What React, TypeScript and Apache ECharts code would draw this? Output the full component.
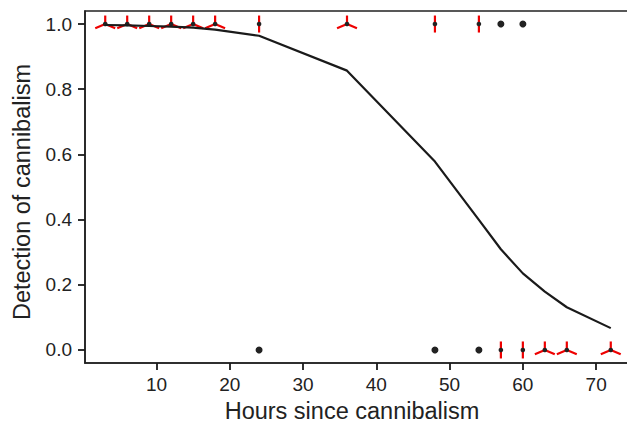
import React, { useEffect, useRef } from "react";
import * as echarts from "echarts";

const curveX = [3, 6, 9, 12, 15, 18, 24, 36, 48, 54, 57, 60, 63, 66, 72];
const curveY = [0.997, 0.996, 0.994, 0.992, 0.989, 0.983, 0.964, 0.857, 0.578, 0.399, 0.309, 0.235, 0.179, 0.131, 0.067];

const topX = [3, 6, 9, 12, 15, 18, 24, 36, 48, 54, 57, 60];
const topCount = [3, 3, 3, 3, 3, 3, 2, 3, 2, 2, 1, 1];
const bottomX = [24, 48, 54, 57, 60, 63, 66, 72];
const bottomCount = [1, 1, 1, 2, 2, 3, 3, 3];

const xTicks = [10, 20, 30, 40, 50, 60, 70];
const yTicks = [0, 0.2, 0.4, 0.6, 0.8, 1.0];

const FONT = "'Liberation Sans', Arial, Helvetica, sans-serif";
const INK = "#222222";

export default function App() {
  const ref = useRef<HTMLDivElement>(null);
  useEffect(() => {
    document.body.style.margin = "0";
    if (!ref.current) return;
    const chart = echarts.init(ref.current, undefined, { renderer: "svg" });

    const singles: number[][] = [];
    const flowers: number[][] = [];
    topX.forEach((x, i) => {
      if (topCount[i] === 1) singles.push([x, 1]);
      else flowers.push([x, 1, topCount[i]]);
    });
    bottomX.forEach((x, i) => {
      if (bottomCount[i] === 1) singles.push([x, 0]);
      else flowers.push([x, 0, bottomCount[i]]);
    });

    const RX = 11.5;
    const RY = 8.5;

    chart.setOption({
      animation: false,
      grid: {
        left: 85,
        top: 11,
        width: 546,
        height: 352,
        outerBoundsMode: "none",
        containLabel: false,
        show: true,
        borderColor: INK,
        borderWidth: 1.6,
        backgroundColor: "transparent",
      },
      xAxis: {
        type: "value",
        min: 0.24,
        max: 74.76,
        name: "Hours since cannibalism",
        nameLocation: "middle",
        nameGap: 36,
        nameTextStyle: { fontFamily: FONT, fontSize: 23.5, color: INK, padding: [0, 12, 0, 0] },
        axisLine: { show: true, onZero: false, lineStyle: { color: INK, width: 1.6 } },
        splitLine: { show: false },
        axisTick: { show: true, length: 7, customValues: xTicks, lineStyle: { color: "#1a1a1a", width: 1.8 } },
        axisLabel: {
          customValues: xTicks,
          fontFamily: FONT,
          fontSize: 19,
          color: INK,
          margin: 12,
        },
      },
      yAxis: {
        type: "value",
        min: -0.04,
        max: 1.04,
        name: "Detection of cannibalism",
        nameLocation: "middle",
        nameGap: 51,
        nameTextStyle: { fontFamily: FONT, fontSize: 23.5, color: INK, padding: [0, 10, 0, 0] },
        axisLine: { show: true, onZero: false, lineStyle: { color: INK, width: 1.6 } },
        splitLine: { show: false },
        axisTick: { show: true, length: 7, customValues: yTicks, lineStyle: { color: "#1a1a1a", width: 1.8 } },
        axisLabel: {
          customValues: yTicks,
          fontFamily: FONT,
          fontSize: 19,
          color: INK,
          margin: 13,
          formatter: (v: number) => v.toFixed(1),
        },
      },
      series: [
        {
          type: "custom",
          z: 3,
          data: flowers,
          renderItem: (params: any, api: any) => {
            const x = api.value(0);
            const y = api.value(1);
            const n = api.value(2);
            const c = api.coord([x, y]);
            const children: any[] = [];
            for (let k = 0; k < n; k++) {
              const a = Math.PI / 2 + (2 * Math.PI * k) / n;
              children.push({
                type: "line",
                shape: { x1: c[0], y1: c[1], x2: c[0] + Math.cos(a) * RX, y2: c[1] - Math.sin(a) * RY },
                style: { stroke: "#ee0000", lineWidth: 2.2 },
              });
            }
            children.push({
              type: "circle",
              shape: { cx: c[0], cy: c[1], r: 2.3 },
              style: { fill: INK },
            });
            return { type: "group", children };
          },
        },
        {
          type: "scatter",
          z: 3,
          data: singles,
          symbol: "circle",
          symbolSize: 7,
          itemStyle: { color: INK, opacity: 1 },
        },
        {
          type: "line",
          z: 4,
          data: curveX.map((x, i) => [x, curveY[i]]),
          showSymbol: false,
          symbol: "none",
          lineStyle: { color: "#1a1a1a", width: 2.2 },
        },
      ],
    });
    return () => chart.dispose();
  }, []);
  return <div ref={ref} style={{ width: 627, height: 423 }} />;
}
